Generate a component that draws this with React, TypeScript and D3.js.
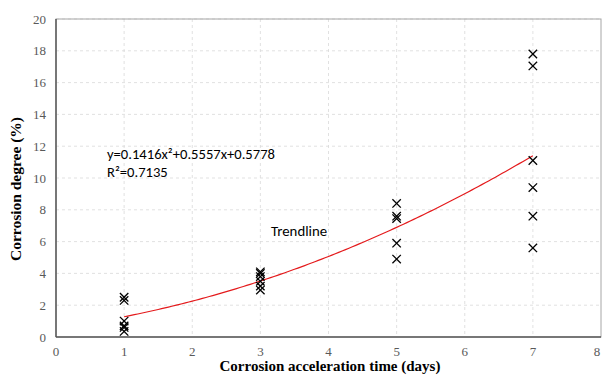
import React from "react";
import * as d3 from "d3";

const day1 = [2.5, 2.3, 1.0, 0.7, 0.6, 0.35];
const day3 = [4.1, 4.0, 3.8, 3.5, 3.2, 2.95];
const day5 = [8.4, 7.6, 7.45, 5.9, 4.9];
const day7 = [17.8, 17.05, 11.1, 9.4, 7.6, 5.6];
const groups: [number, number[]][] = [[1, day1], [3, day3], [5, day5], [7, day7]];
const trendCoef = [0.1416, 0.5557, 0.5778];
const xTicks = [0, 1, 2, 3, 4, 5, 6, 7, 8];
const yTicks = [0, 2, 4, 6, 8, 10, 12, 14, 16, 18, 20];

export default function App() {
  const W = 602, H = 376;
  const m = { l: 56, r: 1, t: 19, b: 39 };
  const x = d3.scaleLinear().domain([0, 8]).range([m.l, W - m.r]);
  const y = d3.scaleLinear().domain([0, 20]).range([H - m.b, m.t]);
  const f = (t: number) => trendCoef[0] * t * t + trendCoef[1] * t + trendCoef[2];
  const tx = d3.range(1, 7.001, 0.05);
  const line = d3.line<number>().x((t) => x(t)).y((t) => y(f(t)));
  const serif = "'Liberation Serif', 'Times New Roman', serif";
  const sans = "Carlito, 'Open Sans', 'Liberation Sans', sans-serif";
  const s = 4.2;
  return (
    <svg width={W} height={H} style={{ position: "absolute", left: 0, top: 0, background: "#fff" }}>
      {yTicks.slice(1).map((v) => (
        <line key={"gy" + v} x1={m.l} x2={W - m.r} y1={y(v)} y2={y(v)} stroke="#d9d9d9" strokeDasharray="3,3" strokeWidth={0.8} />
      ))}
      {xTicks.slice(1, -1).map((v) => (
        <line key={"gx" + v} x1={x(v)} x2={x(v)} y1={m.t} y2={y(0)} stroke="#d9d9d9" strokeDasharray="3,3" strokeWidth={0.8} />
      ))}
      <rect x={m.l} y={m.t} width={W - m.r - m.l} height={y(0) - m.t} fill="none" stroke="#a6a6a6" strokeWidth={1} />
      <line x1={m.l} x2={m.l} y1={m.t} y2={y(0)} stroke="#595959" strokeWidth={1.5} />
      <line x1={m.l} x2={W - m.r} y1={y(0)} y2={y(0)} stroke="#595959" strokeWidth={1.5} />
      {yTicks.map((v) => (
        <text key={"ty" + v} x={46} y={y(v)} dy="0.35em" textAnchor="end" fontFamily={serif} fontSize={13} fill="#595959">{v}</text>
      ))}
      {xTicks.map((v) => (
        <text key={"tx" + v} x={Math.min(x(v), W - 5)} y={356} textAnchor="middle" fontFamily={serif} fontSize={13} fill="#595959">{v}</text>
      ))}
      <path d={line(tx) || ""} fill="none" stroke="#e41a1c" strokeWidth={1.2} />
      {groups.map(([gx, vals]) =>
        vals.map((v, i) => (
          <g key={gx + "-" + i} stroke="#000" strokeWidth={1.3}>
            <line x1={x(gx) - s} x2={x(gx) + s} y1={y(v) - s} y2={y(v) + s} />
            <line x1={x(gx) - s} x2={x(gx) + s} y1={y(v) + s} y2={y(v) - s} />
          </g>
        ))
      )}
      <text x={107} y={159} fontFamily={sans} fontSize={14.6} fill="#000">
        y=0.1416x²+0.5557x+0.5778
      </text>
      <text x={107} y={177} fontFamily={sans} fontSize={14.6} fill="#000">R²=0.7135</text>
      <text x={271} y={236} fontFamily={sans} fontSize={14.8} fill="#000">Trendline</text>
      <text x={330} y={371} textAnchor="middle" fontFamily={serif} fontSize={15} fontWeight="bold" fill="#000">
        Corrosion acceleration time (days)
      </text>
      <text transform={`translate(21,189) rotate(-90)`} textAnchor="middle" fontFamily={serif} fontSize={15.5} fontWeight="bold" fill="#000">
        Corrosion degree (%)
      </text>
    </svg>
  );
}
